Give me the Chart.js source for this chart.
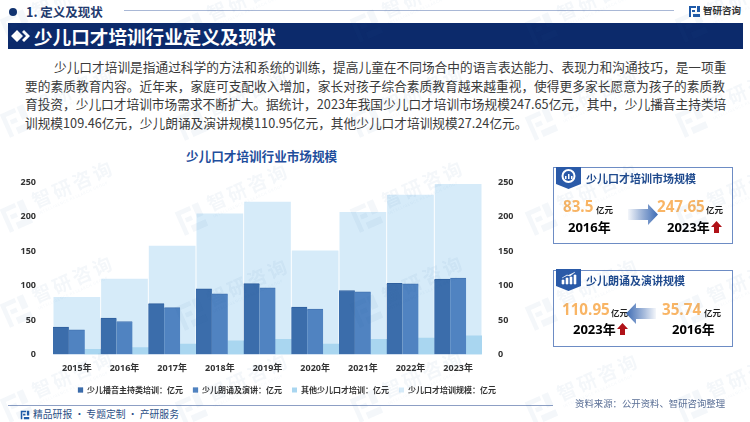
<!DOCTYPE html>
<html lang="zh">
<head>
<meta charset="utf-8">
<title>少儿口才培训行业定义及现状</title>
<script src="https://cdn.jsdelivr.net/npm/chart.js@4/dist/chart.umd.min.js"></script>
<style>
html, body { margin: 0; padding: 0; background: #fff; }
body { position: relative; width: 750px; height: 422px; overflow: hidden; font-family: "Noto Sans CJK SC", sans-serif; }
.t { position: absolute; white-space: nowrap; transform: translateY(-50%); line-height: 1; }
.box { position: absolute; }
#chartWrap { position: absolute; left: 0; top: 168px; width: 574px; height: 236px; }
.para { position: absolute; left: 25px; width: 700px; white-space: nowrap; font-size: 12.7px; line-height: 19px; color: #3a3a3a; font-family: "Noto Sans CJK SC", sans-serif; text-align: justify; text-align-last: justify; }
.card { position: absolute; left: 553px; width: 178px; border: 1px solid #6d8cc4; box-sizing: content-box; }
.num { font-family: "Open Sans", "Noto Sans CJK SC", sans-serif; font-weight: 700; color: #f9b565; font-size: 15.2px; }
.unit { font-weight: 700; font-size: 8.5px; color: #222; }
.yr { font-family: "Open Sans", "Noto Sans CJK SC", sans-serif; font-weight: 700; font-size: 13px; color: #000; }
.cardTitle { font-weight: 700; font-size: 11px; color: #1f4a8e; }
#marks { position: absolute; left: 0; top: 0; width: 750px; height: 422px; pointer-events: none; overflow: hidden; }
.wm { position: absolute; transform: rotate(-24deg); color: rgba(40,90,160,.05); font-weight: 700; font-size: 19px; letter-spacing: 3px; white-space: nowrap; line-height: 1; }
.wm small { display: block; font-size: 4px; letter-spacing: .5px; font-weight: 400; margin-top: 2px; }
.wm svg { position: absolute; left: -36px; top: 2px; }
</style>
</head>
<body>

<!-- header -->
<div class="box" style="left:9px;top:8px;width:8px;height:8px;border-radius:50%;background:#12336f"></div>
<div class="t" style="left:26px;top:12px;font-size:12.5px;font-weight:700;color:#1f3a6e">1. 定义及现状</div>
<div class="box" style="left:124px;top:10px;width:550px;height:1px;background:#a9b8d6"></div>
<svg class="box" style="left:688px;top:5px" width="13" height="13" viewBox="0 0 13 13"><path d="M1 1h7v2H3v9H1zM4 5h3v2H4zM9 1h3v6H9zM5 9h7v3H5z" fill="#1f5aa8"/></svg>
<div class="t" style="left:703px;top:11px;font-size:9.5px;font-weight:700;color:#333">智研咨询</div>

<div class="box" style="left:8px;top:23px;width:735px;height:26px;background:#0c2a6b"></div>
<svg class="box" style="left:11px;top:30px" width="19" height="12" viewBox="0 0 19 12"><path d="M6 0l6 6-6 6-6-6zM13 0l6 6-6 6-2-2 4-4-4-4z" fill="#fff"/></svg>
<div class="t" style="left:34px;top:36px;font-size:18.6px;font-weight:700;color:#fff">少儿口才培训行业定义及现状</div>

<!-- body text -->
<div class="para" style="top:57px;left:54px;width:671px">少儿口才培训是指通过科学的方法和系统的训练，提高儿童在不同场合中的语言表达能力、表现力和沟通技巧，是一项重</div>
<div class="para" style="top:76px">要的素质教育内容。近年来，家庭可支配收入增加，家长对孩子综合素质教育越来越重视，使得更多家长愿意为孩子的素质教</div>
<div class="para" style="top:94px">育投资，少儿口才培训市场需求不断扩大。据统计，2023年我国少儿口才培训市场规模247.65亿元，其中，少儿播音主持类培</div>
<div class="para" style="top:113px;text-align-last:left">训规模109.46亿元，少儿朗诵及演讲规模110.95亿元，其他少儿口才培训规模27.24亿元。</div>

<!-- chart -->
<div class="t" style="left:186px;top:156px;font-size:12.6px;font-weight:700;color:#1f4e9c">少儿口才培训行业市场规模</div>
<div id="chartWrap"><canvas id="marketChart"></canvas></div>

<!-- card 1 -->
<div class="card" style="top:167px;height:75px"></div>
<svg class="box" style="left:556px;top:167px" width="26" height="23" viewBox="0 0 26 23"><path d="M0 0h25v17l-12.5 5L0 17z" fill="#2a5aa8"/><circle cx="12.5" cy="9" r="6" fill="none" stroke="#fff" stroke-width="2"/><path d="M9 12V9h1.5v3zM12 12V7h1.5v5zM15 12V9h1.5v3z" fill="#fff"/></svg>
<div class="t cardTitle" style="left:586px;top:178px">少儿口才培训市场规模</div>
<div class="t num" style="left:563px;top:207px">83.5</div>
<div class="t unit" style="left:596px;top:209px">亿元</div>
<div class="t yr" style="left:568px;top:227px">2016年</div>
<svg class="box" style="left:628px;top:204px" width="30" height="21" viewBox="0 0 30 21"><defs><linearGradient id="gr"><stop offset="0" stop-color="#2a5aa8" stop-opacity=".05"/><stop offset="1" stop-color="#3f6db5"/></linearGradient></defs><path d="M0 5h20V0l10 10.5L20 21v-5H0z" fill="url(#gr)"/></svg>
<div class="t num" style="left:657px;top:207px">247.65</div>
<div class="t unit" style="left:706px;top:209px">亿元</div>
<div class="t yr" style="left:667px;top:227px">2023年</div>
<svg class="box" style="left:711px;top:221px" width="11" height="12" viewBox="0 0 11 12"><path d="M5.5 0L11 6H8v6H3V6H0z" fill="#b01218"/></svg>

<!-- card 2 -->
<div class="card" style="top:270px;height:75px"></div>
<svg class="box" style="left:556px;top:269px" width="26" height="23" viewBox="0 0 26 23"><path d="M0 0h25v17l-12.5 5L0 17z" fill="#2a5aa8"/><path d="M6 15v-4h2v4zM10 15V9h2v6zM14 15V8h2v7zM18 15V6h2v9zM6 9l5-3 3 1 5-4" fill="#fff" stroke="#fff" stroke-width=".6"/></svg>
<div class="t cardTitle" style="left:586px;top:280px">少儿朗诵及演讲规模</div>
<div class="t num" style="left:562px;top:310px">110.95</div>
<div class="t unit" style="left:611px;top:312px">亿元</div>
<div class="t yr" style="left:573px;top:329px">2023年</div>
<svg class="box" style="left:617px;top:323px" width="11" height="12" viewBox="0 0 11 12"><path d="M5.5 0L11 6H8v6H3V6H0z" fill="#b01218"/></svg>
<svg class="box" style="left:626px;top:303px" width="30" height="21" viewBox="0 0 30 21"><defs><linearGradient id="gl" x1="1" x2="0"><stop offset="0" stop-color="#2a5aa8" stop-opacity=".05"/><stop offset="1" stop-color="#3f6db5"/></linearGradient></defs><path d="M30 5H10V0L0 10.5 10 21v-5h20z" fill="url(#gl)"/></svg>
<div class="t num" style="left:662px;top:310px">35.74</div>
<div class="t unit" style="left:704px;top:312px">亿元</div>
<div class="t yr" style="left:672px;top:329px">2016年</div>

<!-- footer -->
<div class="box" style="left:8px;top:405px;width:545px;height:1px;background:#8d9fc4"></div>
<svg class="box" style="left:20px;top:410px" width="10" height="10" viewBox="0 0 13 13"><path d="M1 1h7v2H3v9H1zM4 5h3v2H4zM9 1h3v6H9zM5 9h7v3H5z" fill="#1f5aa8"/></svg>
<div class="t" style="left:33px;top:415px;font-size:9.8px;color:#2c4f86">精品研报 · 专题定制 · 产研服务</div>
<div class="t" style="left:575px;top:404px;font-size:9.4px;color:#5a6f96">资料来源：公开资料、智研咨询整理</div>

<div id="marks"></div>

<script>
var categories = ['2015年', '2016年', '2017年', '2018年', '2019年', '2020年', '2021年', '2022年', '2023年'];
var broadcastValues = [40, 53, 74, 95.5, 103, 69, 93, 103.5, 109.46];
var recitalValues = [36, 48, 68, 88, 97, 66, 91, 102.5, 110.95];
var otherValues = [7.5, 10, 15, 20, 22, 15, 22, 24, 27.24];
var totalValues = [83.5, 110, 158, 205, 222, 151, 207, 232, 247.65];

// Faint watermark
var marks = document.getElementById('marks');
[70, 245, 420, 595, 745].forEach(function(x, col) {
    [-5, 90, 185, 280, 375].forEach(function(y) {
        var el = document.createElement('div');
        el.className = 'wm';
        el.style.left = (x - 40) + 'px';
        el.style.top = (y - 12 + (col % 2 ? 3 : 0)) + 'px';
        el.innerHTML = '<svg width="30" height="30" viewBox="0 0 13 13"><path d="M1 1h7v2H3v9H1zM4 5h3v2H4zM9 1h3v6H9zM5 9h7v3H5z" fill="currentColor"/></svg>智研咨询<small>INTELLIGENCE RESEARCH GROUP</small>';
        marks.appendChild(el);
    });
});

function fixWidth(w) {
    return function(axis) { axis.width = w; };
}

// Own bar type, so the backdrop bars are not grouped with the three narrow series
class TotalBarController extends Chart.BarController {}
TotalBarController.id = 'totalBar';
TotalBarController.defaults = Chart.BarController.defaults;
Chart.register(TotalBarController);

new Chart(document.getElementById('marketChart'), {
    type: 'bar',
    data: {
        labels: categories,
        datasets: [
            { label: '少儿播音主持类培训：亿元', data: broadcastValues, backgroundColor: '#3b6dab', borderColor: '#2f5f9e', borderWidth: { top: 1 }, categoryPercentage: 1, barPercentage: 1, yAxisID: 'y' },
            { label: '少儿朗诵及演讲：亿元', data: recitalValues, backgroundColor: '#5083c1', borderColor: '#4474b2', borderWidth: { top: 1 }, categoryPercentage: 1, barPercentage: 1, yAxisID: 'y' },
            { label: '其他少儿口才培训：亿元', data: otherValues, backgroundColor: '#a9d6f0', categoryPercentage: 1, barPercentage: 1, yAxisID: 'y' },
            { type: 'totalBar', label: '少儿口才培训规模：亿元', data: totalValues, backgroundColor: '#d6ebf9', categoryPercentage: 1, barPercentage: 0.98, yAxisID: 'y1' }
        ]
    },
    options: {
        responsive: true,
        maintainAspectRatio: false,
        animation: false,
        devicePixelRatio: 1,
        layout: { padding: { top: 5, right: 0, bottom: 0, left: 0 } },
        plugins: {
            tooltip: { enabled: false },
            legend: {
                position: 'bottom',
                labels: {
                    boxWidth: 5,
                    boxHeight: 5,
                    padding: 10,
                    color: '#333',
                    font: { family: "'Noto Sans CJK SC'", size: 8, weight: '700' }
                }
            }
        },
        scales: {
            x: {
                afterFit: function(axis) { axis.height = 21.5; },
                grid: { display: false },
                border: { display: false },
                ticks: { color: '#333', padding: 1, font: { family: "'Open Sans', 'Noto Sans CJK SC'", size: 9, weight: '700' } }
            },
            y: {
                position: 'left',
                min: 0,
                max: 250,
                afterFit: fixWidth(53),
                grid: { display: false },
                border: { display: false },
                ticks: { stepSize: 50, color: '#333', padding: 9, font: { family: "'Open Sans'", size: 9, weight: '700' } }
            },
            y1: {
                position: 'right',
                min: 0,
                max: 250,
                afterFit: fixWidth(92),
                grid: { display: false },
                border: { display: false },
                ticks: { stepSize: 50, color: '#333', padding: 8, font: { family: "'Open Sans'", size: 9, weight: '700' } }
            }
        }
    }
});
</script>
</body>
</html>
